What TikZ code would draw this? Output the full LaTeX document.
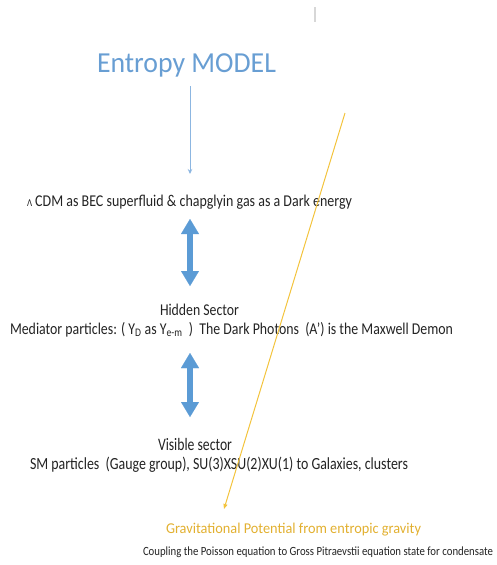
\documentclass[tikz,border=0pt]{standalone}
\usepackage{fontspec}
\setmainfont{Carlito}
\usepackage{graphicx}
\usetikzlibrary{arrows.meta}
\definecolor{titleblue}{RGB}{104,158,211}
\definecolor{arrowblue}{RGB}{91,155,213}
\definecolor{thinblue}{RGB}{140,182,225}
\definecolor{goldline}{RGB}{243,195,60}
\definecolor{textgold}{RGB}{226,176,48}
\definecolor{ink}{RGB}{35,35,35}
\definecolor{tickgray}{RGB}{215,215,215}
\newcommand{\fitline}[3]{\resizebox{#1}{\height}{\fontsize{#2}{#2}\selectfont #3}}
\begin{document}
\begin{tikzpicture}[x=1pt,y=-1pt,
  txt/.style={anchor=base west, inner sep=0pt, outer sep=0pt, text=ink},
  dbl/.style={arrowblue, line width=6.5pt,
    {Triangle[length=15pt,width=18pt,line width=0.01pt]}-{Triangle[length=15pt,width=18pt,line width=0.01pt]}},
  thin/.style={thinblue, line width=0.9pt, -{Stealth[length=5pt,width=4.5pt]}},
  gold/.style={goldline, line width=1pt, -{Triangle[length=5pt,width=4pt]}}]
\useasboundingbox (0,0) rectangle (496,565);
% texts
\node[txt, text=titleblue] (title) at (97,72) {\fitline{179pt}{29}{Entropy MODEL}};
\node[txt] (lcdm) at (27,206) {\fitline{325pt}{16.5}{{\fontsize{10.5}{10.5}\selectfont Λ} CDM as BEC superfluid \& chapglyin gas as a Dark energy}};
\node[txt] (hidden) at (160,315) {\fitline{79pt}{16.5}{Hidden Sector}};
\node[txt] (mediator) at (10,334) {\fitline{443pt}{16.5}{Mediator particles: ( Υ\textsubscript{D} as Υ\textsubscript{e-m}\ \ )\ \ The Dark Photons\ \ (A’) is the Maxwell Demon}};
\node[txt] (visible) at (158,450) {\fitline{74pt}{17.5}{Visible sector}};
\node[txt] (sm) at (30,469) {\fitline{378pt}{17}{SM particles\ \ (Gauge group), SU(3)XSU(2)XU(1) to Galaxies, clusters}};
\node[txt, text=textgold] (grav) at (166,533) {\fitline{255pt}{15}{Gravitational Potential from entropic gravity}};
\node[txt] (coupling) at (143,555) {\fitline{350pt}{12.5}{Coupling the Poisson equation to Gross Pitraevstii equation state for condensate}};
% connector ends
\coordinate (t1) at (190,86);
\coordinate (t2) at (190,174);
\coordinate (a1) at (190,219);
\coordinate (a2) at (190,286);
\coordinate (b1) at (190,353);
\coordinate (b2) at (190,417);
\coordinate (g1) at (345,113);
\coordinate (g2) at (224,509);
\coordinate (k1) at (315,7);
\coordinate (k2) at (315,22);
% connectors
\draw[thin] (t1) -- (t2);
\draw[dbl] (a1) -- (a2);
\draw[dbl] (b1) -- (b2);
\draw[gold] (g1) -- (g2);
\draw[tickgray, line width=1.5pt] (k1) -- (k2);
\end{tikzpicture}
\end{document}
